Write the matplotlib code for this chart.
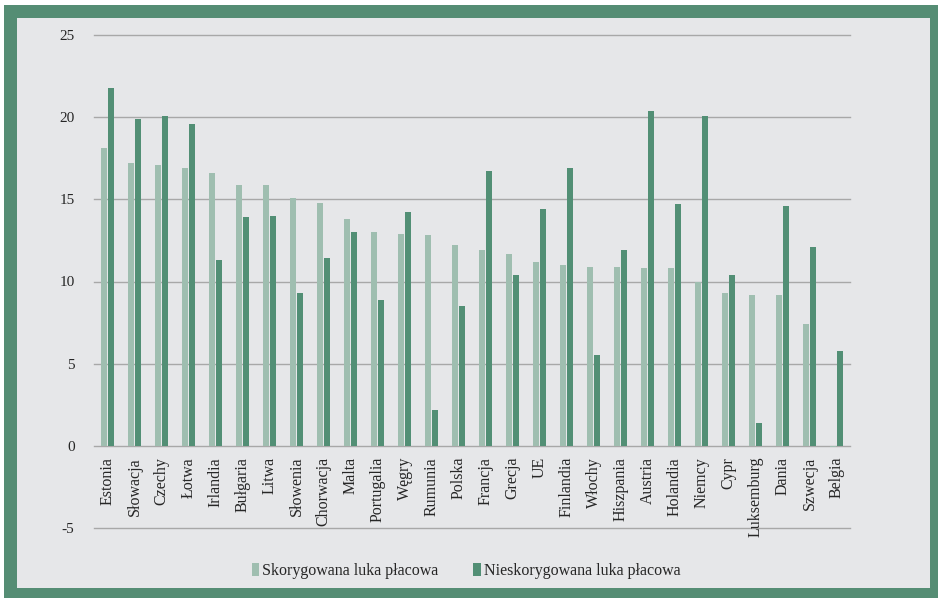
import matplotlib.pyplot as plt
from matplotlib.patches import Rectangle
import numpy as np

# --------------------------------
# Data
# --------------------------------
countries = ["Estonia", "Słowacja", "Czechy", "Łotwa", "Irlandia", "Bułgaria",
             "Litwa", "Słowenia", "Chorwacja", "Malta", "Portugalia", "Węgry",
             "Rumunia", "Polska", "Francja", "Grecja", "UE", "Finlandia",
             "Włochy", "Hiszpania", "Austria", "Holandia", "Niemcy", "Cypr",
             "Luksemburg", "Dania", "Szwecja", "Belgia"]

adjusted = [18.1, 17.2, 17.1, 16.9, 16.6, 15.9, 15.9, 15.1, 14.8, 13.8,
            13.0, 12.9, 12.8, 12.2, 11.9, 11.7, 11.2, 11.0, 10.9, 10.9,
            10.8, 10.8, 10.0, 9.3, 9.2, 9.2, 7.4, -0.1]

unadjusted = [21.8, 19.9, 20.1, 19.6, 11.3, 13.9, 14.0, 9.3, 11.4, 13.0,
              8.9, 14.2, 2.2, 8.5, 16.7, 10.4, 14.4, 16.9, 5.5, 11.9,
              20.4, 14.7, 20.1, 10.4, 1.4, 14.6, 12.1, 5.8]

y_ticks = [-5, 0, 5, 10, 15, 20, 25]
legend_labels = ["Skorygowana luka płacowa", "Nieskorygowana luka płacowa"]

# --------------------------------
# Style
# --------------------------------
light_green = "#9fbeb0"
dark_green = "#528f75"
frame_green = "#558d74"
panel_bg = "#e6e7e9"
text_color = "#262626"

plt.rcParams["font.family"] = ["Liberation Serif", "DejaVu Serif"]

W, H = 938, 598
fig = plt.figure(figsize=(W / 100, H / 100), dpi=100, facecolor="white")

# green frame and light panel
fig.patches.append(Rectangle((4 / W, 0), 934 / W, 593 / H, transform=fig.transFigure,
                             facecolor=frame_green, edgecolor="none", zorder=-2))
fig.patches.append(Rectangle((17 / W, 10 / H), 913 / W, 570 / H, transform=fig.transFigure,
                             facecolor=panel_bg, edgecolor="none", zorder=-1))

ax = fig.add_axes([94 / W, 70 / H, 756 / W, 493 / H])
ax.set_facecolor(panel_bg)

x = np.arange(len(countries))
width = 0.22
ax.bar(x - 0.125, adjusted, width, color=light_green, label=legend_labels[0], zorder=3)
ax.bar(x + 0.125, unadjusted, width, color=dark_green, label=legend_labels[1], zorder=3)

ax.set_xlim(-0.5, len(countries) - 0.5)
ax.set_ylim(-5, 25)
ax.set_yticks(y_ticks)
ax.set_yticklabels([str(t) for t in y_ticks])
ax.tick_params(axis="y", length=0, pad=14, labelsize=11, labelcolor=text_color)
ax.set_xticks([])
ax.grid(axis="y", color="#a8a8a8", linewidth=1.0, zorder=0)
for line in ax.get_ygridlines():
    line.set_clip_on(False)
for s in ax.spines.values():
    s.set_visible(False)

# category labels just below zero line
for i, name in enumerate(countries):
    ax.annotate(name, xy=(i, 0), xytext=(0, -8), textcoords="offset points",
                rotation=90, ha="center", va="top", fontsize=11.5, color=text_color)

fig.legend(loc="center", bbox_to_anchor=(466 / W, 1 - 571 / H), ncol=2, frameon=False,
           fontsize=11.5, handlelength=0.45, handleheight=0.9, handletextpad=0.2,
           columnspacing=2.2, labelcolor=text_color)

plt.savefig("out.png", dpi=100, facecolor="white")
